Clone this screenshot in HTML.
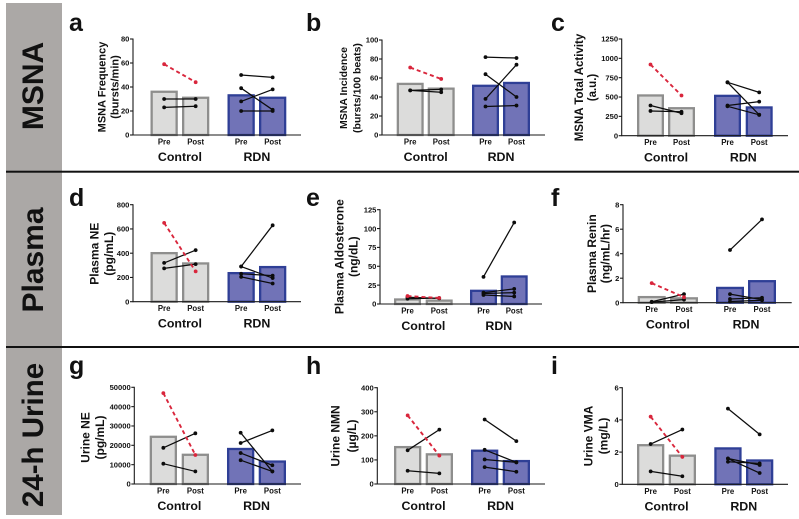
<!DOCTYPE html>
<html lang="en">
<head>
<meta charset="utf-8">
<title>MSNA, plasma and urine measures, pre and post</title>
<style>
html,body{margin:0;padding:0;background:#fff;}
body{width:799px;height:519px;overflow:hidden;}
svg{display:block;font-family:"Liberation Sans",Arial,sans-serif;font-weight:bold;filter:blur(0.3px);}
</style>
</head>
<body>
<svg id="figure" width="799" height="519" viewBox="0 0 799 519" xmlns="http://www.w3.org/2000/svg">
  <rect x="6" y="3" width="56" height="512" fill="#aba8a6"/>
  <rect x="6" y="170.7" width="793" height="2" fill="#111"/>
  <rect x="6" y="346" width="793" height="2" fill="#111"/>
  <text transform="translate(43,86) rotate(-90)" text-anchor="middle" font-size="30" fill="#111">MSNA</text>
  <text transform="translate(43,260) rotate(-90)" text-anchor="middle" font-size="30" fill="#111">Plasma</text>
  <text transform="translate(43,435) rotate(-90)" text-anchor="middle" font-size="29.5" fill="#111">24-h Urine</text>
  <g id="panels"></g>
</svg>
<script>
// Panel a: MSNA frequency
const aTicks = [0, 20, 40, 60, 80];
const aBars = [37, 32, 34, 32];
const aControl = [[30, 30], [23, 24]];
const aRed = [59, 44];
const aRdn = [[50, 48], [39, 21], [28, 38], [20, 20]];
// Panel b: MSNA incidence
const bTicks = [0, 20, 40, 60, 80, 100];
const bBars = [55, 50, 53, 56];
const bControl = [[47, 48], [47, 45]];
const bRed = [71, 59];
const bRdn = [[82, 81], [64, 40], [38, 74], [30, 31]];
// Panel c: MSNA total activity
const cTicks = [0, 250, 500, 750, 1000, 1250];
const cBars = [535, 370, 530, 380];
const cControl = [[390, 290], [320, 310]];
const cRed = [920, 520];
const cRdn = [[690, 560], [690, 270], [390, 440], [380, 270]];
// Panel d: plasma NE
const dTicks = [0, 200, 400, 600, 800];
const dBars = [410, 325, 245, 295];
const dControl = [[320, 425], [275, 310]];
const dRed = [650, 250];
const dRdn = [[290, 630], [290, 195], [230, 215], [205, 150]];
// Panel e: plasma aldosterone
const eTicks = [0, 25, 50, 75, 100, 125];
const eBars = [7.5, 6, 19, 38];
const eControl = [[7, 8], [9, 7.5]];
const eRed = [10.5, 8];
const eRdn = [[36, 108], [15, 20], [14, 15], [12, 10]];
// Panel f: plasma renin
const fTicks = [0, 2, 4, 6, 8];
const fBars = [0.55, 0.45, 1.3, 1.85];
const fControl = [[0.08, 0.7], [0.05, 0.25]];
const fRed = [1.6, 0.45];
const fRdn = [[4.3, 6.8], [0.7, 0.25], [0.3, 0.4], [0.1, 0.2]];
// Panel g: urine NE
const gTicks = [0, 10000, 20000, 30000, 40000, 50000];
const gBars = [25000, 15700, 18700, 12200];
const gControl = [[18700, 26200], [10500, 6500]];
const gRed = [47000, 15000];
const gRdn = [[26500, 6500], [21200, 27700], [16000, 9700], [12300, 6500]];
// Panel h: urine NMN
const hTicks = [0, 100, 200, 300, 400];
const hBars = [158, 128, 143, 100];
const hControl = [[140, 226], [55, 44]];
const hRed = [285, 118];
const hRdn = [[268, 178], [142, 90], [102, 90], [70, 51]];
// Panel i: urine VMA
const iTicks = [0, 2, 4, 6];
const iBars = [2.5, 1.85, 2.3, 1.55];
const iControl = [[2.5, 3.4], [0.8, 0.5]];
const iRed = [4.2, 1.7];
const iRdn = [[4.7, 3.1], [1.6, 1.2], [1.6, 0.7], [1.4, 1.3]];

const conditionLabels = ['Pre', 'Post', 'Pre', 'Post'];
const groupLabels = ['Control', 'RDN'];

const panels = [
  {id:'a', ticks:aTicks, bars:aBars, control:aControl, red:aRed, rdn:aRdn, title:['MSNA Frequency','(bursts/min)'], size:11, tx:[105.5,118.5], ty:87, lx:69, ly:31, ax:133, top:39, base:135, end:301, bx:[150.5,182,227.5,259], bw:27.3},
  {id:'b', ticks:bTicks, bars:bBars, control:bControl, red:bRed, rdn:bRdn, title:['MSNA Incidence','(bursts/100 beats)'], size:10.5, tx:[347,360.5], ty:88, lx:306, ly:31, ax:382, top:40, base:135, end:545, bx:[396.7,427.7,472,503], bw:27},
  {id:'c', ticks:cTicks, bars:cBars, control:cControl, red:cRed, rdn:cRdn, title:['MSNA Total Activity','(a.u.)'], size:11.5, tx:[583,596], ty:87.5, lx:551, ly:31, ax:621.7, top:39, base:135.7, end:788, bx:[637,668,714,745.7], bw:27},
  {id:'d', ticks:dTicks, bars:dBars, control:dControl, red:dRed, rdn:dRdn, title:['Plasma NE','(pg/mL)'], size:12, tx:[98.5,113], ty:253.7, lx:69, ly:206, ax:133, top:204.7, base:301.7, end:301, bx:[150.5,182,227.5,259], bw:27.3},
  {id:'e', ticks:eTicks, bars:eBars, control:eControl, red:eRed, rdn:eRdn, title:['Plasma Aldosterone','(ng/dL)'], size:12, tx:[343.5,357.5], ty:256.7, lx:306, ly:206, ax:380, top:209.7, base:304, end:542, bx:[394,425.7,470,500.7], bw:27},
  {id:'f', ticks:fTicks, bars:fBars, control:fControl, red:fRed, rdn:fRdn, title:['Plasma Renin','(ng/mL/hr)'], size:12, tx:[596,609.5], ty:253.7, lx:551, ly:206, ax:623, top:204.7, base:302.7, end:791.7, bx:[637.7,670,716,748], bw:28},
  {id:'g', ticks:gTicks, bars:gBars, control:gControl, red:gRed, rdn:gRdn, title:['Urine NE','(pg/mL)'], size:12, tx:[89.5,104], ty:437.5, lx:69, ly:374, ax:134.3, top:387.3, base:484, end:301, bx:[149.7,181.7,227,258.7], bw:27.3},
  {id:'h', ticks:hTicks, bars:hBars, control:hControl, red:hRed, rdn:hRdn, title:['Urine NMN','(\u00b5g/L)'], size:12, tx:[339.5,356], ty:436, lx:306, ly:374, ax:377.3, top:387.7, base:484, end:545, bx:[394,425.7,471,502.7], bw:27.3},
  {id:'i', ticks:iTicks, bars:iBars, control:iControl, red:iRed, rdn:iRdn, title:['Urine VMA','(mg/L)'], size:12, tx:[592.5,607.5], ty:436, lx:551, ly:374, ax:622.3, top:387.7, base:484.3, end:788, bx:[637,668.7,714.3,746], bw:27.3}
];

const NS = 'http://www.w3.org/2000/svg';
const root = document.getElementById('panels');

function make(parent, tag, props, content) {
  const el = document.createElementNS(NS, tag);
  for (const k in props) el.setAttribute(k, props[k]);
  if (content !== undefined) el.textContent = content;
  parent.appendChild(el);
  return el;
}

function yAxisScale(p) {
  const max = p.ticks[p.ticks.length - 1];
  return function (v) { return p.base - (v / max) * (p.base - p.top); };
}

function centers(p) {
  return p.bx.map(function (x) { return x + p.bw / 2; });
}

function drawBars(g, p, y) {
  const sw = 2.3;
  p.bars.forEach(function (v, i) {
    const isControl = i < 2;
    const rect = make(g, 'rect', {
      x: p.bx[i] + sw / 2,
      y: y(v) + sw / 2,
      width: p.bw - sw,
      height: Math.max(0.1, p.base - y(v) - sw / 2),
      fill: isControl ? '#dcdcdb' : '#7173b7',
      stroke: isControl ? '#8e8e8d' : '#2f3f96',
      'stroke-width': sw
    });
    
    
  });
}

function drawPair(g, x1, x2, y, pair, color, dashed, name) {
  const line = make(g, 'line', {
    x1: x1, x2: x2, y1: y(pair[0]), y2: y(pair[1]),
    stroke: color,
    'stroke-width': dashed ? 1.9 : 1.25
  });
  if (dashed) line.setAttribute('stroke-dasharray', '4 3');
  
  
  const startDot = make(g, 'circle', {cx: x1, cy: y(pair[0]), r: 1.9, fill: color});
  
  
  const endDot = make(g, 'circle', {cx: x2, cy: y(pair[1]), r: 1.9, fill: color});
  
  
}

function drawAxes(g, p, y) {
  const yAxis = make(g, 'line', {x1: p.ax, x2: p.ax, y1: p.top - 0.5, y2: p.base + 0.5, stroke: '#1a1a1a', 'stroke-width': 1.1});
  
  
  const xAxis = make(g, 'line', {x1: p.ax, x2: p.end, y1: p.base, y2: p.base, stroke: '#1a1a1a', 'stroke-width': 1.1});
  
  
  p.ticks.forEach(function (t) {
    const tick = make(g, 'line', {x1: p.ax - 3, x2: p.ax, y1: y(t), y2: y(t), stroke: '#1a1a1a', 'stroke-width': 1.1});
    
    
    const label = make(g, 'text', {x: p.ax - 3.6, y: y(t) + 2.7, 'text-anchor': 'end', 'font-size': 7.6, fill: '#111'}, String(t));
    
    
  });
}

function drawLabels(g, p) {
  const c = centers(p);
  conditionLabels.forEach(function (txt, i) {
    const label = make(g, 'text', {x: c[i], y: p.base + 9.5, 'text-anchor': 'middle', 'font-size': 7.8, fill: '#111'}, txt);
    
    
  });
  groupLabels.forEach(function (txt, i) {
    const mid = (c[i * 2] + c[i * 2 + 1]) / 2;
    const label = make(g, 'text', {x: mid, y: p.base + 26, 'text-anchor': 'middle', 'font-size': 12.4, fill: '#111'}, txt);
    
    
  });
  p.title.forEach(function (txt, i) {
    const title = make(g, 'text', {
      transform: 'translate(' + p.tx[i] + ',' + p.ty + ') rotate(-90)',
      'text-anchor': 'middle', 'font-size': p.size, fill: '#111'
    }, txt);
    
    
  });
  const letter = make(g, 'text', {x: p.lx, y: p.ly, 'font-size': 25, fill: '#111'}, p.id);
  
  
}

panels.forEach(function (p) {
  const g = make(root, 'g', {});
  
  
  const y = yAxisScale(p);
  const c = centers(p);
  drawBars(g, p, y);
  drawAxes(g, p, y);
  p.control.forEach(function (pair) {
    drawPair(g, c[0], c[1], y, pair, '#0c0c0c', false, 'control-subject-' + p.id);
  });
  drawPair(g, c[0], c[1], y, p.red, '#d9263c', true, 'control-highlight-' + p.id);
  p.rdn.forEach(function (pair) {
    drawPair(g, c[2], c[3], y, pair, '#0c0c0c', false, 'rdn-subject-' + p.id);
  });
  drawLabels(g, p);
});
</script>
</body>
</html>
